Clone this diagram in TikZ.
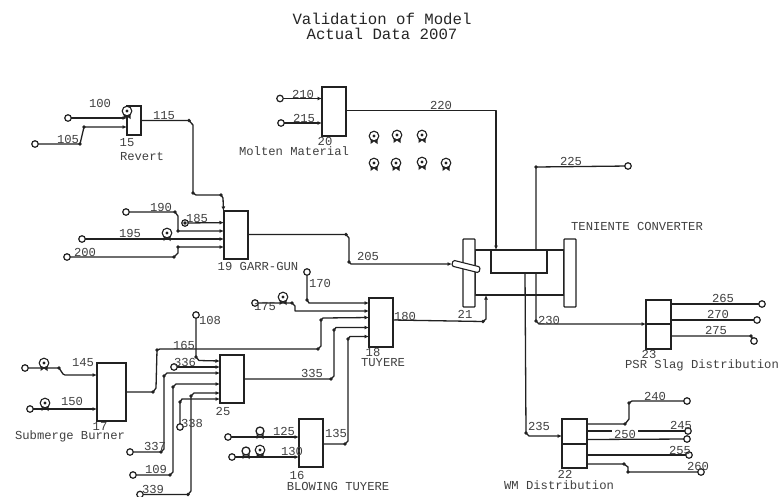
\documentclass[tikz,border=0pt]{standalone}
\usepackage{fontspec}
\setmainfont{Liberation Mono}
\usetikzlibrary{arrows.meta}
\definecolor{ink}{gray}{0.13}
\definecolor{txt}{gray}{0.25}
\tikzset{
  unit/.style={draw=ink,line width=1.3pt,inner sep=0,outer sep=0,fill=white},
  plate/.style={draw=ink,line width=1.3pt,inner sep=0,outer sep=0,rounded corners=0.8pt,fill=white},
  port/.style={circle,draw=ink,line width=1.2pt,inner sep=0,minimum size=6.5pt,outer sep=0,fill=white},
  conn/.style={draw=ink,line width=1.3pt,-{Latex[length=4.5pt,width=4pt]},line join=round},
  plain/.style={draw=ink,line width=1.3pt,line join=round},
  lab/.style={text=txt,font=\fontsize{12.2}{12}\selectfont,inner sep=0},
  title/.style={text=black!85,font=\fontsize{15.7}{16}\selectfont,inner sep=0},
  gauge/.pic={
    \fill[ink] (-3.5,3) -- (3.5,8) -- (3.5,3) -- (-3.5,8) -- cycle;
    \draw[draw=ink,line width=1.1pt,fill=white] (0,0) circle (4.8);
    \fill[ink] (0,0) circle (1.7);
  },
  gaugeopen/.pic={
    \fill[ink] (-3.5,3) -- (3.5,8) -- (3.5,3) -- (-3.5,8) -- cycle;
    \draw[draw=ink,line width=1.3pt,fill=white] (0,0) circle (4);
  },
}
\newcommand{\bendmarks}[1]{\foreach \p in {#1}{\fill[ink] \p circle (1.9);}}
\begin{document}
\begin{tikzpicture}[x=1pt,y=-1pt]
\useasboundingbox[fill=white] (0,0) rectangle (783,496);

\node[title] (t1) at (382,19) {Validation of Model};
\node[title] (t2) at (382,34) {Actual Data 2007};

% units
\node[unit,minimum width=14pt,minimum height=29pt] (b15) at (134,120.5) {};
\node[unit,minimum width=24pt,minimum height=48pt] (b19) at (236,235) {};
\node[unit,minimum width=24pt,minimum height=49pt] (b20) at (334,111.5) {};
\node[unit,minimum width=24pt,minimum height=49pt] (b18) at (381,322.5) {};
\node[unit,minimum width=24pt,minimum height=48pt] (b25) at (232,379) {};
\node[unit,minimum width=29pt,minimum height=58pt] (b17) at (111.5,392) {};
\node[unit,minimum width=24pt,minimum height=48pt] (b16) at (311,443) {};
\node[unit,minimum width=25pt,minimum height=49pt] (b23) at (658.5,324.5) {};
\node[unit,minimum width=25pt,minimum height=49pt] (b22) at (574.5,443.5) {};
\draw[plain] (b23.west |- 0,324) -- (b23.east |- 0,324);
\draw[plain] (b22.west |- 0,444) -- (b22.east |- 0,444);

% converter
\node[unit,minimum width=89pt,minimum height=45pt] (body) at (519.5,272.5) {};
\node[plate,minimum width=12pt,minimum height=68pt] (pl) at (469,273) {};
\node[plate,minimum width=12pt,minimum height=68pt] (pr) at (570,273) {};
\node[unit,minimum width=56pt,minimum height=23pt] (inner) at (519,261.5) {};

% ports
\node[port] (p100) at (68,118) {};
\node[port] (p105) at (35,144) {};
\node[port] (p190) at (126,212) {};
\node[port] (p185) at (185,223) {};
\node[port] (p195) at (82,239) {};
\node[port] (p200) at (67,257) {};
\node[port] (p210) at (280,98.5) {};
\node[port] (p215) at (281,123) {};
\node[port] (p170) at (307,272) {};
\node[port] (p175) at (255,303) {};
\node[port] (p108) at (196,315) {};
\node[port] (p336) at (174,367) {};
\node[port] (p337) at (130,452) {};
\node[port] (p109) at (133,475) {};
\node[port] (p339) at (140,494.5) {};
\node[port] (p338) at (180,427) {};
\node[port] (p145) at (25,368) {};
\node[port] (p150) at (30,409) {};
\node[port] (p125) at (228,437) {};
\node[port] (p130) at (232,457) {};
\node[port] (p225) at (628,166) {};
\node[port] (p265) at (762,304) {};
\node[port] (p270) at (757,320) {};
\node[port] (p275) at (754,341) {};
\node[port] (p240) at (687,401) {};
\node[port] (p245) at (688,431) {};
\node[port] (p250) at (687,439) {};
\node[port] (p255) at (689,455) {};
\node[port] (p260) at (701,472) {};

% connectors
\draw[conn] (p100) -- (b15.west |- 0,118);
\draw[conn] (p105) -- (80,144) -- (84,127) -- (b15.west |- 0,127);
\draw[conn] (b15.east |- 0,120.5) -- (189,120.5) -- (193,125) -- (193,193) -- (196,195) -- (221,195) -- (223,198) -- (b19.north -| 223.5,0);
\draw[conn] (p190) -- (175,212) -- (178,216) -- (178,231) -- (b19.west |- 0,231);
\draw[conn] (p185) -- (b19.west |- 0,222.6);
\draw[conn] (p195) -- (b19.west |- 0,239);
\draw[conn] (p200) -- (174,257) -- (178,253) -- (178,247) -- (b19.west |- 0,247);
\draw[conn] (b19.east |- 0,234.5) -- (346,234.5) -- (349,238) -- (349,262) -- (351,264) -- (452,264);
\draw[conn] (p210) -- (b20.west |- 0,98.5);
\draw[conn] (p215) -- (b20.west |- 0,123);
\draw[conn] (b20.east |- 0,110.5) -- (496,110.5) -- (496,0 |- inner.north);
\draw[plain] (536,0 |- inner.north) -- (536,167) -- (p225);
\draw[conn] (536,0 |- inner.south) -- (536,321) -- (539,324) -- (b23.west |- 0,324);
\draw[conn] (525,0 |- inner.south) -- (526,433) -- (529,436) -- (b22.west |- 0,436);
\draw[conn] (b18.east |- 0,320) -- (483,321.5) -- (486,319) -- (486,0 |- body.south);
\draw[plain] (b23.east |- 0,304) -- (p265);
\draw[plain] (b23.east |- 0,320) -- (p270);
\draw[plain] (b23.east |- 0,336) -- (751,336) -- (p275);
\draw[plain] (b22.east |- 0,424) -- (625,424) -- (629,419) -- (629,403) -- (632,401) -- (p240);
\draw[plain] (b22.east |- 0,431) -- (p245);
\draw[plain] (b22.east |- 0,439.5) -- (p250);
\draw[plain] (b22.east |- 0,455) -- (p255);
\draw[plain] (b22.east |- 0,464) -- (624,464) -- (628,467) -- (628,472) -- (p260);
\draw[conn] (p170) -- (307,300) -- (309,303) -- (b18.west |- 0,303);
\draw[conn] (p175) -- (292,303) -- (295,306) -- (295,311) -- (b18.west |- 0,311);
\draw[conn] (b17.east |- 0,392) -- (153,392) -- (156,388) -- (157,350) -- (160,349) -- (318,349) -- (321,346) -- (321,320) -- (323,318) -- (b18.west |- 0,317.5);
\draw[conn] (b25.east |- 0,379) -- (331,379) -- (334,376) -- (334,330) -- (336,327.5) -- (b18.west |- 0,327.5);
\draw[conn] (b16.east |- 0,444) -- (345,444) -- (348,441) -- (348,339) -- (350,336.5) -- (b18.west |- 0,336.5);
\draw[conn] (p108) -- (196,357) -- (199,360.5) -- (b25.west |- 0,361);
\draw[conn] (p336) -- (b25.west |- 0,367);
\draw[conn] (p337) -- (161,452) -- (164,449) -- (164,376) -- (167,373) -- (b25.west |- 0,373);
\draw[conn] (p109) -- (170,475) -- (173,472) -- (173,387) -- (176,384) -- (b25.west |- 0,384);
\draw[conn] (p339) -- (188,494.5) -- (191,491) -- (191,396) -- (194,393) -- (b25.west |- 0,393);
\draw[conn] (p338) -- (180,402) -- (182,399) -- (b25.west |- 0,399);
\draw[conn] (p145) -- (59,368) -- (63,374) -- (65,375) -- (b17.west |- 0,375);
\draw[conn] (p150) -- (b17.west |- 0,409);
\draw[conn] (p125) -- (b16.west |- 0,437);
\draw[conn] (p130) -- (b16.west |- 0,457);

% lance
\draw[draw=ink,line width=1.1pt,fill=white,rounded corners=1.5pt,rotate around={-14:(466,266.5)}] (452,263.5) rectangle (480,269.5);

% bend marks
\bendmarks{(80,144),(84,127),(189,120.5),(193,193),(221,195),(175,212),(178,231),(178,247),(174,257),(346,234.5),(349,262),(185,223),
 (536,167),(536,321),(526,433),(483,321.5),(625,424),(629,403),(751,336),(624,464),(628,472),
 (307,300),(292,303),(153,392),(157,350),(318,349),(321,320),(331,379),(334,330),(345,444),(348,339),
 (196,357),(161,452),(164,376),(170,475),(173,387),(188,494.5),(191,396),(180,402),(59,368)}

% gauges
\pic at (127,111) {gauge};
\pic at (167,233) {gauge};
\foreach \gx/\gy in {374/136,397/135,422/135,374/163,396/163,422/162,446/163,283/297,44/363,45/403,260/450}
  {\pic at (\gx,\gy) {gauge};}
\pic at (260,431) {gaugeopen};
\pic at (246,451) {gaugeopen};

% labels
\node[lab] (l100) at (100,103) {100};
\node[lab] (l105) at (68,139) {105};
\node[lab] (l115) at (164,116) {115};
\node[lab] (l15) at (127,143) {15};
\node[lab] (lrev) at (142,156) {Revert};
\node[lab] (l190) at (161,207) {190};
\node[lab] (l185) at (197,218) {185};
\node[lab] (l195) at (130,233) {195};
\node[lab] (l200) at (85,252) {200};
\node[lab] (l205) at (368,256) {205};
\node[lab] (l19) at (258,266) {19 GARR-GUN};
\node[lab] (l210) at (303,94) {210};
\node[lab] (l215) at (304,118) {215};
\node[lab] (l20) at (325,141) {20};
\node[lab] (lmm) at (294,151) {Molten Material};
\node[lab] (l220) at (441,105) {220};
\node[lab] (l225) at (571,161) {225};
\node[lab] (lten) at (637,226) {TENIENTE CONVERTER};
\node[lab] (l21) at (465,314) {21};
\node[lab] (l180) at (405,316) {180};
\node[lab] (l230) at (549,320) {230};
\node[lab] (l265) at (723,298) {265};
\node[lab] (l270) at (718,314) {270};
\node[lab] (l275) at (716,330) {275};
\node[lab] (l23) at (649,354.5) {23};
\node[lab] (lpsr) at (702,365) {PSR Slag Distribution};
\node[lab] (l240) at (655,396) {240};
\node[lab] (l245) at (681,425) {245};
\node[lab,fill=white,inner xsep=2pt] (l250) at (625,434) {250};
\node[lab] (l255) at (680,450) {255};
\node[lab] (l260) at (698,466) {260};
\node[lab] (l235) at (539,426) {235};
\node[lab] (l22) at (565,474.5) {22};
\node[lab] (lwm) at (559,485) {WM Distribution};
\node[lab] (l170) at (320,283) {170};
\node[lab] (l175) at (265,307) {175};
\node[lab] (l18) at (373,352) {18};
\node[lab] (ltuy) at (383,362.5) {TUYERE};
\node[lab] (l108) at (210,320) {108};
\node[lab] (l165) at (184,345) {165};
\node[lab] (l336) at (185,362) {336};
\node[lab] (l25) at (223,411) {25};
\node[lab] (l335) at (312,373) {335};
\node[lab] (l145) at (83,363) {145};
\node[lab] (l150) at (72,401) {150};
\node[lab] (l17) at (100,426) {17};
\node[lab] (lsub) at (70,436.5) {Submerge Burner};
\node[lab] (l338) at (192,423) {338};
\node[lab] (l337) at (155,446) {337};
\node[lab] (l109) at (156,469) {109};
\node[lab] (l339) at (153,489) {339};
\node[lab] (l125) at (284,431) {125};
\node[lab] (l130) at (292,451) {130};
\node[lab] (l135) at (336,433) {135};
\node[lab] (l16) at (297,475) {16};
\node[lab] (lblow) at (338,486) {BLOWING TUYERE};
\end{tikzpicture}
\end{document}
